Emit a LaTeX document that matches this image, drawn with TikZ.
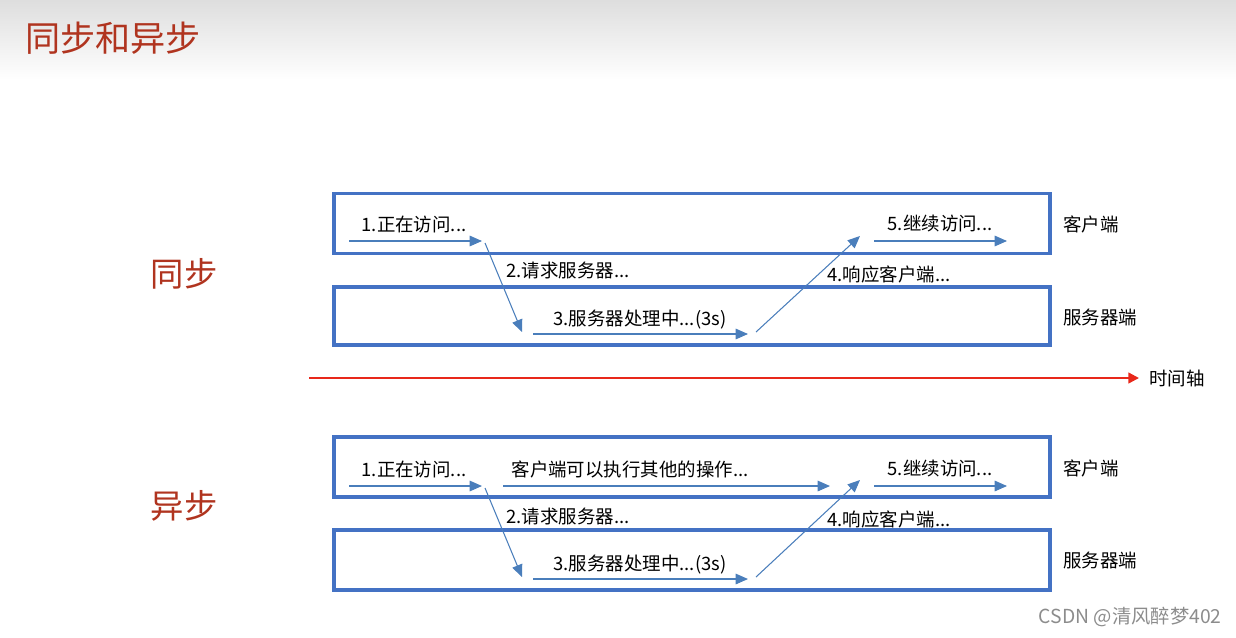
\documentclass[tikz,border=0pt]{standalone}
\usepackage{fontspec}
\setmainfont{Noto Sans CJK SC}
\usetikzlibrary{arrows.meta,positioning}
\definecolor{boxblue}{HTML}{4472C4}
\definecolor{lineblue}{HTML}{4A7EBB}
\definecolor{axisred}{HTML}{E8281A}
\definecolor{titlered}{HTML}{B0341F}
\tikzset{
  lane/.style={draw=boxblue,line width=2.2pt,minimum width=14.32cm,minimum height=1.2cm,inner sep=0pt},
  flow/.style={draw=lineblue,line width=0.6pt,-{Triangle[length=7pt,width=6pt]}},
  steptext/.style={font=\fontsize{10.5}{12}\selectfont,inner sep=0pt},
  sidetext/.style={font=\fontsize{10.5}{12}\selectfont,anchor=west,inner sep=0pt},
  modetext/.style={font=\fontsize{19}{22}\selectfont,color=titlered,inner sep=0pt},
}

\begin{document}
\begin{tikzpicture}[x=0.02cm,y=-0.02cm]
    \path[use as bounding box] (0,0) rectangle (1236,637);
    % title bar
    \shade[top color=black!13,bottom color=white] (0,0) rectangle (1236,80);
    \node[font=\fontsize{20}{24}\selectfont,color=titlered,anchor=west,inner sep=0pt] (title) at (25,38) {同步和异步};

    % ---- synchronous ----
    \node[modetext] (syncname) at (184,274) {同步};
    \node[lane] (sclient) at (692,223.5) {};
    \node[lane,minimum height=1.16cm] (sserver) at (692,316) {};
    \node[sidetext] (sclientname) at (1063,224) {客户端};
    \node[sidetext] (sservername) at (1063,317) {服务器端};
    \coordinate (s1a) at (349,241);  \coordinate (s1b) at (482,241);
    \coordinate (s2a) at (485,243);  \coordinate (s2b) at (522,332);
    \coordinate (s3a) at (533,334);  \coordinate (s3b) at (748,334);
    \coordinate (s4a) at (756,332);  \coordinate (s4b) at (860,236);
    \coordinate (s5a) at (874,241);  \coordinate (s5b) at (1007,241);
    \draw[flow] (s1a) -- (s1b);
    \draw[flow] (s2a) -- (s2b);
    \draw[flow] (s3a) -- (s3b);
    \draw[flow] (s4a) -- (s4b);
    \draw[flow] (s5a) -- (s5b);
    \node[steptext] (s1) at (414,224) {1.正在访问...};
    \node[steptext] (s2) at (568,270) {2.请求服务器...};
    \node[steptext] (s3) at (640,320) {3.服务器处理中...(3s)};
    \node[steptext] (s4) at (889,274) {4.响应客户端...};
    \node[steptext] (s5) at (940,223) {5.继续访问...};

    % time axis
    \coordinate (t0) at (309,378);
    \node[sidetext] (taxis) at (1149,378) {时间轴};
    \draw[axisred,line width=1.3pt,-{Triangle[length=6pt,width=6pt]}] (t0) -- ([xshift=-0.2cm]taxis.west);

    % ---- asynchronous ----
    \node[modetext] (asyncname) at (184,506) {异步};
    \node[lane] (aclient) at (692,467) {};
    \node[lane] (aserver) at (692,560) {};
    \node[sidetext] (aclientname) at (1063,468) {客户端};
    \node[sidetext] (aservername) at (1063,560) {服务器端};
    \coordinate (a1a) at (349,486);  \coordinate (a1b) at (482,486);
    \coordinate (a0a) at (503,486);  \coordinate (a0b) at (830,486);
    \coordinate (a2a) at (485,488);  \coordinate (a2b) at (522,577);
    \coordinate (a3a) at (533,579);  \coordinate (a3b) at (748,579);
    \coordinate (a4a) at (756,577);  \coordinate (a4b) at (860,480);
    \coordinate (a5a) at (874,486);  \coordinate (a5b) at (1007,486);
    \draw[flow] (a1a) -- (a1b);
    \draw[flow] (a0a) -- (a0b);
    \draw[flow] (a2a) -- (a2b);
    \draw[flow] (a3a) -- (a3b);
    \draw[flow] (a4a) -- (a4b);
    \draw[flow] (a5a) -- (a5b);
    \node[steptext] (a1) at (414,469) {1.正在访问...};
    \node[steptext] (a0) at (630,469) {客户端可以执行其他的操作...};
    \node[steptext] (a2) at (568,516) {2.请求服务器...};
    \node[steptext] (a3) at (640,565) {3.服务器处理中...(3s)};
    \node[steptext] (a4) at (889,519) {4.响应客户端...};
    \node[steptext] (a5) at (940,468) {5.继续访问...};

    % watermark
    \node[font=\fontsize{11}{13}\selectfont,color=black!45,anchor=east,inner sep=0pt] (mark) at (1222,617) {CSDN @清风醉梦402};
  \end{tikzpicture}
\end{document}
